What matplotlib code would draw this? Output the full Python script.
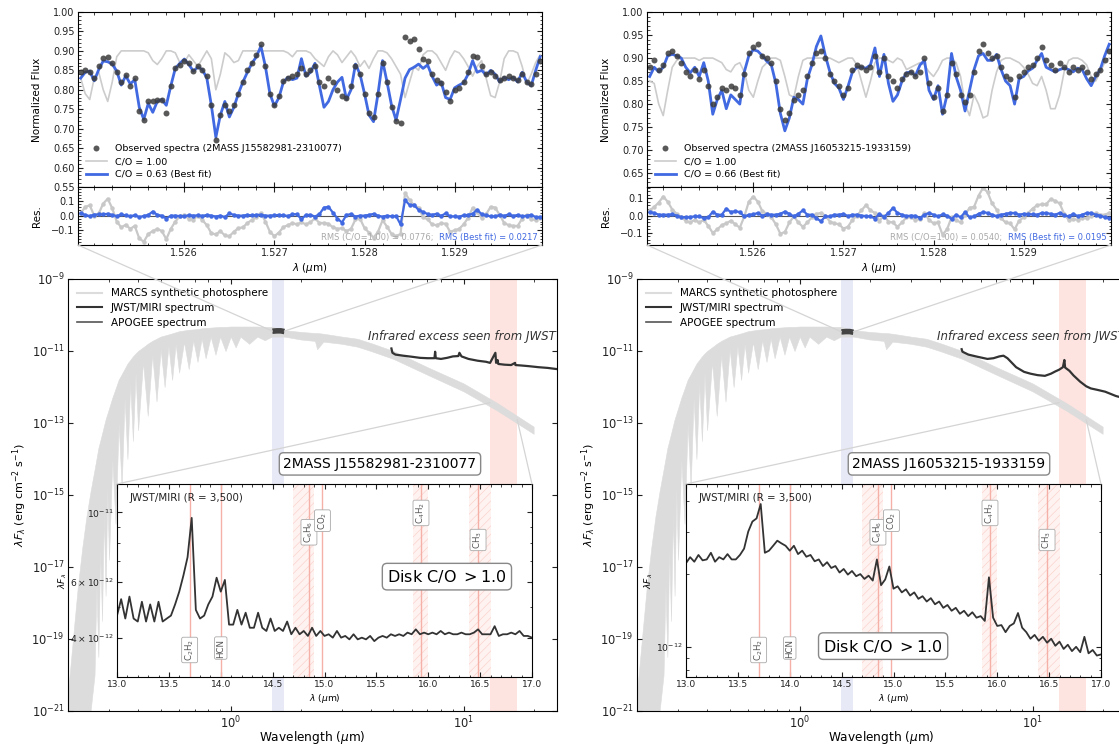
import numpy as np
import matplotlib
matplotlib.use('Agg')
import matplotlib.pyplot as plt
from matplotlib.lines import Line2D
from matplotlib.patches import ConnectionPatch
from matplotlib.ticker import (MultipleLocator, FixedLocator, FixedFormatter,
                               NullFormatter, NullLocator, FormatStrFormatter, LogLocator)
import matplotlib.transforms as mtransforms

plt.rcParams['font.family'] = ['DejaVu Sans']
plt.rcParams['mathtext.fontset'] = 'dejavusans'
plt.rcParams['hatch.linewidth'] = 0.5

# ---------------- APOGEE window (top panels) ----------------
apogee_grid = np.linspace(1.52485, 1.52995, 103)

obs_a = [0.845, 0.85, 0.845, 0.83, 0.86, 0.882, 0.885, 0.87, 0.845, 0.82,
         0.838, 0.81, 0.83, 0.745, 0.722, 0.77, 0.77, 0.775, 0.775, 0.74,
         0.81, 0.855, 0.865, 0.875, 0.868, 0.848, 0.86, 0.85, 0.835, 0.76,
         0.672, 0.735, 0.76, 0.745, 0.76, 0.79, 0.82, 0.85, 0.87, 0.89,
         0.918, 0.86, 0.79, 0.76, 0.785, 0.822, 0.83, 0.835, 0.84, 0.855,
         0.84, 0.85, 0.862, 0.82, 0.81, 0.83, 0.82, 0.80, 0.785, 0.78,
         0.81, 0.86, 0.84, 0.79, 0.74, 0.73, 0.79, 0.868, 0.82, 0.755,
         0.72, 0.715, 0.935, 0.925, 0.93, 0.905, 0.88, 0.875, 0.84, 0.825,
         0.818, 0.795, 0.77, 0.80, 0.805, 0.82, 0.845, 0.888, 0.885, 0.86,
         0.84, 0.845, 0.835, 0.825, 0.83, 0.835, 0.83, 0.825, 0.84, 0.82,
         0.815, 0.84, 0.875]
best_a = [0.83, 0.845, 0.848, 0.823, 0.852, 0.874, 0.872, 0.866, 0.848, 0.812,
          0.836, 0.815, 0.826, 0.755, 0.724, 0.765, 0.742, 0.77, 0.775, 0.76,
          0.81, 0.855, 0.868, 0.879, 0.865, 0.848, 0.858, 0.852, 0.83, 0.76,
          0.678, 0.735, 0.77, 0.73, 0.755, 0.79, 0.82, 0.845, 0.868, 0.885,
          0.912, 0.86, 0.79, 0.758, 0.78, 0.82, 0.832, 0.826, 0.83, 0.88,
          0.835, 0.845, 0.868, 0.81, 0.755, 0.77, 0.8, 0.82, 0.832, 0.775,
          0.8, 0.866, 0.84, 0.79, 0.735, 0.718, 0.79, 0.875, 0.82, 0.76,
          0.722, 0.775, 0.83, 0.852, 0.858, 0.866, 0.855, 0.864, 0.835, 0.812,
          0.82, 0.78, 0.775, 0.805, 0.812, 0.818, 0.84, 0.875, 0.845, 0.85,
          0.838, 0.85, 0.84, 0.82, 0.832, 0.826, 0.832, 0.82, 0.845, 0.82,
          0.81, 0.85, 0.885]
co1_a = [0.83, 0.79, 0.775, 0.83, 0.845, 0.80, 0.77, 0.82, 0.885, 0.90,
         0.90, 0.90, 0.90, 0.90, 0.90, 0.895, 0.875, 0.865, 0.88, 0.90,
         0.90, 0.895, 0.87, 0.87, 0.89, 0.875, 0.86, 0.88, 0.90, 0.88,
         0.80, 0.84, 0.895, 0.885, 0.87, 0.875, 0.90, 0.90, 0.90, 0.90,
         0.90, 0.90, 0.90, 0.90, 0.90, 0.90, 0.895, 0.885, 0.90, 0.90,
         0.90, 0.895, 0.88, 0.87, 0.86, 0.885, 0.90, 0.89, 0.87, 0.885,
         0.90, 0.885, 0.86, 0.875, 0.855, 0.88, 0.90, 0.90, 0.895, 0.88,
         0.86, 0.84, 0.78, 0.82, 0.86, 0.85, 0.89, 0.90, 0.90, 0.89,
         0.87, 0.85, 0.88, 0.90, 0.895, 0.88, 0.86, 0.835, 0.86, 0.875,
         0.83, 0.785, 0.78, 0.82, 0.88, 0.90, 0.90, 0.895, 0.86, 0.815,
         0.84, 0.87, 0.89]

obs_b = [0.88, 0.895, 0.875, 0.885, 0.91, 0.915, 0.905, 0.89, 0.87, 0.86,
         0.875, 0.855, 0.875, 0.84, 0.80, 0.815, 0.835, 0.83, 0.84, 0.835,
         0.82, 0.865, 0.91, 0.925, 0.93, 0.905, 0.9, 0.89, 0.85, 0.79,
         0.765, 0.78, 0.81, 0.82, 0.83, 0.86, 0.89, 0.91, 0.915, 0.9,
         0.865, 0.85, 0.84, 0.82, 0.835, 0.875, 0.885, 0.88, 0.875, 0.88,
         0.905, 0.87, 0.9, 0.86, 0.85, 0.835, 0.855, 0.865, 0.87, 0.86,
         0.87, 0.9, 0.845, 0.815, 0.835, 0.785, 0.82, 0.89, 0.865, 0.82,
         0.805, 0.82, 0.87, 0.915, 0.93, 0.91, 0.9, 0.905, 0.88, 0.86,
         0.855, 0.815, 0.86, 0.87, 0.88, 0.885, 0.9, 0.925, 0.895, 0.885,
         0.875, 0.89, 0.88, 0.87, 0.88, 0.875, 0.88, 0.87, 0.855, 0.865,
         0.875, 0.895, 0.915]
best_b = [0.86, 0.88, 0.87, 0.88, 0.905, 0.908, 0.905, 0.90, 0.88, 0.868,
          0.88, 0.86, 0.89, 0.85, 0.778, 0.81, 0.83, 0.79, 0.82, 0.81,
          0.80, 0.87, 0.905, 0.918, 0.915, 0.905, 0.893, 0.885, 0.845, 0.78,
          0.742, 0.77, 0.815, 0.81, 0.80, 0.855, 0.885, 0.925, 0.948, 0.905,
          0.87, 0.845, 0.835, 0.81, 0.838, 0.87, 0.88, 0.88, 0.878, 0.885,
          0.922, 0.86, 0.908, 0.845, 0.806, 0.82, 0.85, 0.868, 0.87, 0.862,
          0.885, 0.895, 0.83, 0.81, 0.84, 0.778, 0.82, 0.91, 0.86, 0.83,
          0.785, 0.83, 0.875, 0.905, 0.91, 0.895, 0.895, 0.908, 0.875, 0.85,
          0.84, 0.80, 0.855, 0.86, 0.872, 0.878, 0.895, 0.91, 0.88, 0.875,
          0.87, 0.875, 0.878, 0.875, 0.87, 0.878, 0.875, 0.855, 0.84, 0.86,
          0.875, 0.905, 0.93]
co1_b = [0.85, 0.845, 0.80, 0.775, 0.83, 0.88, 0.895, 0.90, 0.90, 0.90,
         0.90, 0.895, 0.90, 0.90, 0.90, 0.895, 0.89, 0.875, 0.87, 0.885,
         0.89, 0.87, 0.83, 0.815, 0.85, 0.88, 0.89, 0.90, 0.90, 0.895,
         0.86, 0.82, 0.815, 0.86, 0.895, 0.90, 0.90, 0.90, 0.90, 0.90,
         0.90, 0.895, 0.89, 0.895, 0.90, 0.90, 0.885, 0.85, 0.815, 0.85,
         0.89, 0.90, 0.90, 0.895, 0.89, 0.90, 0.895, 0.875, 0.88, 0.885,
         0.89, 0.885, 0.87, 0.86, 0.875, 0.895, 0.90, 0.90, 0.89, 0.86,
         0.80, 0.775, 0.82, 0.80, 0.77, 0.775, 0.83, 0.87, 0.895, 0.90,
         0.90, 0.895, 0.89, 0.88, 0.865, 0.845, 0.84, 0.86, 0.83, 0.79,
         0.79, 0.82, 0.87, 0.895, 0.90, 0.90, 0.895, 0.885, 0.86, 0.85,
         0.87, 0.89, 0.90]

# ---------------- SED: MARCS photosphere envelope (log10 flux) ----------------
marcs_wl = [0.20, 0.21, 0.22, 0.23, 0.24, 0.25,
            0.26, 0.265, 0.27, 0.275, 0.28, 0.285, 0.29, 0.295, 0.30, 0.31, 0.32, 0.33,
            0.34, 0.35, 0.36, 0.37, 0.38, 0.39, 0.40, 0.42, 0.44, 0.46, 0.48, 0.50,
            0.52, 0.54, 0.56, 0.58, 0.60, 0.63, 0.66, 0.69, 0.72, 0.75, 0.78, 0.82,
            0.86, 0.90, 0.95, 1.0, 1.05, 1.1, 1.2, 1.3, 1.4,
            1.5, 1.7, 2.0, 2.3, 2.35, 2.5, 3.0, 3.5, 4.0, 5.0, 7.0, 10.0, 14.0, 20.0]
marcs_hi = [-20.5, -19.0, -17.6, -16.5, -15.6, -14.9,
            -14.3, -14.0, -13.7, -13.5, -13.3, -13.1, -12.9, -12.75, -12.6, -12.3, -12.05, -11.8,
            -11.65, -11.5, -11.35, -11.25, -11.15, -11.07, -11.0, -10.9, -10.8, -10.72, -10.66,
            -10.6, -10.57, -10.54, -10.51, -10.48, -10.45, -10.43, -10.41, -10.4, -10.39,
            -10.37, -10.36, -10.35, -10.34, -10.33, -10.33, -10.32, -10.32, -10.32, -10.32,
            -10.32, -10.33,
            -10.33, -10.42, -10.47, -10.5, -10.5, -10.52, -10.6, -10.66, -10.78, -11.0,
            -11.45, -11.9, -12.45, -13.1]
marcs_lo = [-22.0, -22.0, -22.0, -21.8, -21.5, -21.0,
            -20.0, -17.5, -19.5, -16.5, -18.5, -15.5, -17.8, -14.8, -16.8, -14.0, -15.8, -13.0,
            -14.8, -12.3, -14.0, -11.9, -13.5, -11.6, -13.2, -11.3, -12.8, -11.1, -12.4,
            -10.95, -12.0, -10.85, -11.8, -10.8, -11.6, -10.75, -11.5, -10.7, -11.3,
            -10.65, -11.2, -10.6, -11.1, -10.6, -11.0, -10.6, -10.9, -10.6, -10.8,
            -10.6, -10.7,
            -10.6, -10.6, -10.68, -10.72, -10.95, -10.74, -10.8, -10.88, -11.0, -11.22,
            -11.66, -12.12, -12.66, -13.3]

apogee_wl = [1.51, 1.58, 1.64, 1.70]
apogee_logf_a = [-10.45, -10.44, -10.44, -10.46]
apogee_logf_b = [-10.47, -10.46, -10.46, -10.48]

jwst_wl_a = [4.90, 4.95, 5.1, 5.5, 6.0, 6.5, 7.0, 7.5, 7.55, 7.6, 8.0, 8.5, 9.0, 9.5, 9.6,
             9.8, 10.5, 11.5, 12.5, 13.0, 13.7, 13.8, 14.0, 14.1, 15.0, 16.0, 16.65, 16.7,
             17.5, 19.0, 21.0, 23.0, 25.0, 27.0]
jwst_logf_a = [-10.93, -11.05, -11.1, -11.13, -11.16, -11.19, -11.2, -11.2, -11.02, -11.2,
               -11.22, -11.19, -11.15, -11.14, -11.05, -11.15, -11.22, -11.27, -11.3, -11.33,
               -11.05, -11.33, -11.25, -11.36, -11.38, -11.39, -11.33, -11.39, -11.4, -11.42,
               -11.45, -11.47, -11.5, -11.52]
jwst_wl_b = [4.96, 5.0, 5.3, 5.8, 6.4, 6.8, 7.2, 7.5, 7.8, 8.5, 9.2, 9.8, 10.5, 11.3, 12.0,
             12.5, 13.0, 13.5, 13.7, 13.8, 14.4, 15.0, 16.0, 17.0, 17.8, 19.0, 20.5, 22.8,
             25.0, 28.0]
jwst_logf_b = [-10.95, -11.02, -11.1, -11.16, -11.22, -11.2, -11.15, -11.13, -11.2, -11.45,
               -11.58, -11.63, -11.67, -11.69, -11.63, -11.57, -11.52, -11.45, -11.25, -11.46,
               -11.55, -11.68, -11.85, -11.98, -12.04, -12.08, -12.13, -12.25, -12.32, -12.38]

# ---------------- MIRI insets (units of 1e-12) ----------------
miri_grid = np.linspace(13.0, 17.0, 101)
miri_a = [4.7, 5.3, 4.6, 5.4, 4.6, 4.5, 5.2, 4.5, 5.1, 4.5,
          5.2, 4.5, 4.6, 4.7, 5.1, 5.6, 6.3, 7.2, 9.6, 4.9,
          4.6, 4.7, 5.1, 5.4, 6.2, 5.6, 6.1, 4.4, 4.4, 4.9,
          4.4, 4.8, 4.3, 4.3, 4.8, 4.3, 4.2, 4.6, 4.2, 4.3,
          4.2, 4.5, 4.1, 4.3, 4.1, 4.2, 4.05, 4.3, 4.05, 4.2,
          4.05, 4.1, 4.0, 4.2, 4.0, 4.05, 3.95, 4.1, 3.95, 4.0,
          3.95, 4.05, 3.9, 4.0, 4.05, 4.0, 4.1, 4.05, 4.1, 4.05,
          4.15, 4.1, 4.25, 4.1, 4.15, 4.1, 4.15, 4.1, 4.2, 4.1,
          4.15, 4.1, 4.1, 4.15, 4.1, 4.1, 4.15, 4.25, 4.1, 4.1,
          4.1, 4.35, 4.05, 4.1, 4.1, 4.15, 4.1, 4.2, 4.05, 4.05,
          4.0]
miri_b = [2.22, 2.35, 2.25, 2.4, 2.28, 2.3, 2.45, 2.25, 2.35, 2.3,
          2.42, 2.3, 2.3, 2.4, 2.55, 3.0, 3.3, 3.4, 3.9, 2.45,
          2.5, 2.62, 2.75, 2.68, 2.62, 2.5, 2.62, 2.42, 2.5, 2.36,
          2.4, 2.26, 2.3, 2.16, 2.24, 2.12, 2.16, 2.03, 2.1, 1.99,
          2.06, 1.96, 2.0, 1.91, 1.97, 1.88, 2.3, 1.8, 1.9, 2.15,
          1.74, 1.78, 1.68, 1.73, 1.63, 1.68, 1.58, 1.62, 1.54, 1.59,
          1.5, 1.54, 1.45, 1.49, 1.41, 1.45, 1.37, 1.41, 1.34, 1.39,
          1.32, 1.34, 1.28, 1.94, 1.32, 1.22, 1.23, 1.15, 1.22, 1.25,
          1.38, 1.2, 1.15, 1.08, 1.12, 1.06, 1.1, 1.04, 1.08, 1.01,
          1.05, 0.98, 1.02, 0.96, 1.0, 0.95, 1.1, 0.94, 0.97, 0.92,
          0.93]

species = ['C$_2$H$_2$', 'HCN', 'C$_6$H$_6$', 'CO$_2$', 'C$_4$H$_2$', 'CH$_3$']
species_wl = [13.70, 14.0, 14.85, 14.98, 15.93, 16.48]
species_ypos = [0.14, 0.15, 0.75, 0.81, 0.85, 0.71]
hatch_bands = [(14.70, 14.90), (15.85, 16.00), (16.39, 16.60)]

BLUE = '#4169e1'
W, H = 1119, 746
fig = plt.figure(figsize=(W / 100, H / 100), dpi=100)


def px_axes(x0, y0, x1, y1):
    return fig.add_axes([x0 / W, 1 - y1 / H, (x1 - x0) / W, (y1 - y0) / H])


def style(ax, size):
    ax.tick_params(which='both', direction='in', top=True, right=True, labelsize=size,
                   colors='#222', pad=2.5)
    ax.tick_params(which='major', length=3.5)
    ax.tick_params(which='minor', length=1.8)


def draw_top(dx, obs, best, co1, star, co_best, rms1, rms2, ylim, rlim):
    ax = px_axes(78 + dx, 12, 542 + dx, 187)
    res = px_axes(78 + dx, 187, 542 + dx, 245)
    h1, = ax.plot(apogee_grid, co1, color='#cccccc', lw=1.2)
    h2, = ax.plot(apogee_grid, best, color=BLUE, lw=2.0)
    h0, = ax.plot(apogee_grid, obs, 'o', color='#3c3c3c', ms=4.3, alpha=0.85, mec='none')
    ax.legend([h0, h1, h2], ['Observed spectra (%s)' % star, 'C/O = 1.00',
                             'C/O = %s (Best fit)' % co_best],
              loc='lower left', frameon=False, fontsize=6.8, handlelength=2.3,
              borderaxespad=0.4, labelspacing=0.45)
    ax.set_xlim(1.52482, 1.52997)
    ax.set_ylim(*ylim)
    ax.yaxis.set_major_locator(MultipleLocator(0.05))
    ax.yaxis.set_minor_locator(MultipleLocator(0.01))
    ax.yaxis.set_major_formatter(FormatStrFormatter('%.2f'))
    ax.xaxis.set_major_locator(FixedLocator([1.526, 1.527, 1.528, 1.529]))
    ax.xaxis.set_minor_locator(MultipleLocator(0.0002))
    ax.set_xticklabels([])
    ax.set_ylabel('Normalized Flux', fontsize=7.5)
    style(ax, 7)

    r_obs = np.array(obs)
    res.plot(apogee_grid, r_obs - np.array(co1), 'o-', color='#c8c8c8', ms=3.2, lw=1.6, mec='none')
    res.plot(apogee_grid, r_obs - np.array(best), 'o-', color=BLUE, ms=3.2, lw=1.6, mec='none')
    res.axhline(0, color='#555', lw=0.8, zorder=0)
    res.set_xlim(1.52482, 1.52997)
    res.set_ylim(*rlim)
    res.yaxis.set_major_locator(FixedLocator([-0.1, 0.0, 0.1]))
    res.yaxis.set_minor_locator(MultipleLocator(0.02))
    res.xaxis.set_major_locator(FixedLocator([1.526, 1.527, 1.528, 1.529]))
    res.xaxis.set_minor_locator(MultipleLocator(0.0002))
    res.xaxis.set_major_formatter(FormatStrFormatter('%.3f'))
    res.set_ylabel('Res.', fontsize=7.5)
    res.set_xlabel(r'$\lambda$ ($\mu$m)', fontsize=7.5, labelpad=2)
    style(res, 7)
    t2 = res.text(0.99, 0.05, 'RMS (Best fit) = %s' % rms2, transform=res.transAxes,
                  ha='right', va='bottom', fontsize=6, color=BLUE)
    res.annotate('RMS (C/O=1.00) = %s;  ' % rms1, xy=(0, 0), xycoords=t2,
                 ha='right', va='bottom', fontsize=6, color='#aaaaaa')
    ax.yaxis.set_label_coords(-0.078, 0.5)
    res.yaxis.set_label_coords(-0.078, 0.5)
    return res


def draw_sed(dx, apogee_logf, jwst_wl, jwst_logf, star, miri, ylim_in, res_ax,
             co_box, ticks_in, ticklabels_in):
    ax = px_axes(68 + dx, 279, 557 + dx, 711)
    ax.set_xscale('log')
    ax.set_yscale('log')
    ax.axvspan(1.51, 1.70, color='#e7e9f6', lw=0, zorder=0)
    ax.axvspan(13.0, 17.0, color='#fde4e0', lw=0, zorder=0)
    ax.fill_between(marcs_wl, 10.0 ** np.array(marcs_lo), 10.0 ** np.array(marcs_hi),
                    color='#dcdcdc', lw=0.4, edgecolor='#dcdcdc', zorder=1)
    ax.plot(jwst_wl, 10.0 ** np.array(jwst_logf), color='#333333', lw=1.6, zorder=3)
    ax.plot(apogee_wl, 10.0 ** np.array(apogee_logf), color='#444444', lw=4,
            solid_capstyle='butt', zorder=3)
    ax.set_xlim(0.2, 25.2)
    ax.set_ylim(1e-21, 1e-9)
    ax.yaxis.set_major_locator(FixedLocator([10.0 ** e for e in range(-21, -8, 2)]))
    ax.yaxis.set_minor_locator(NullLocator())
    ax.xaxis.set_major_locator(LogLocator(base=10))
    ax.xaxis.set_minor_locator(LogLocator(base=10, subs=np.arange(2, 10)))
    ax.xaxis.set_minor_formatter(NullFormatter())
    style(ax, 8.3)
    ax.set_xlabel(r'Wavelength ($\mu$m)', fontsize=8.7, va='center')
    ax.xaxis.set_label_coords(0.5, -0.061)
    ax.set_ylabel(r'$\lambda F_\lambda$ (erg cm$^{-2}$ s$^{-1}$)', fontsize=8, labelpad=2)
    handles = [Line2D([], [], color='#dcdcdc', lw=1.5), Line2D([], [], color='#333333', lw=1.5),
               Line2D([], [], color='#555555', lw=1.2)]
    ax.legend(handles, ['MARCS synthetic photosphere', 'JWST/MIRI spectrum', 'APOGEE spectrum'],
              loc='upper left', frameon=False, fontsize=7.5, handlelength=2.4,
              labelspacing=0.45, borderaxespad=0.5)
    ax.text(0.998, 0.866, 'Infrared excess seen from JWST', transform=ax.transAxes,
            ha='right', va='center', fontsize=8.5, style='italic', color='#333')
    ax.text(0.638, 0.572, star, transform=ax.transAxes, ha='center', va='center',
            fontsize=10, bbox=dict(boxstyle='round,pad=0.3', fc='white', ec='#888', lw=1))

    # zoom connectors APOGEE window -> SED
    for xa, xb in [(0, apogee_wl[0]), (1, apogee_wl[-1])]:
        cp = ConnectionPatch(xyA=(xa, 0), coordsA=res_ax.transAxes,
                             xyB=(xb, 10.0 ** np.mean(apogee_logf)), coordsB=ax.transData,
                             color='#d4d4d4', lw=0.9, zorder=5)
        fig.add_artist(cp)

    ins = px_axes(117 + dx, 484, 532 + dx, 677)
    ins.set_yscale('log')
    for lo, hi in hatch_bands:
        ins.axvspan(lo, hi, facecolor='#fff3f1', edgecolor='#fad3ce', hatch='////', lw=0)
    for w in species_wl:
        ins.axvline(w, color='#f5b0a8', lw=1)
    ins.plot(miri_grid, np.array(miri) * 1e-12, color='#333333', lw=1.3)
    ins.set_xlim(13.0, 17.0)
    ins.set_ylim(*ylim_in)
    ins.yaxis.set_major_locator(FixedLocator(ticks_in))
    ins.yaxis.set_major_formatter(FixedFormatter(ticklabels_in))
    ins.yaxis.set_minor_locator(LogLocator(base=10, subs=np.arange(2, 10)))
    ins.yaxis.set_minor_formatter(NullFormatter())
    ins.xaxis.set_major_locator(MultipleLocator(0.5))
    ins.xaxis.set_minor_locator(MultipleLocator(0.1))
    ins.xaxis.set_major_formatter(FormatStrFormatter('%.1f'))
    style(ins, 6.6)
    ins.set_xlabel(r'$\lambda$ ($\mu$m)', fontsize=6.6, labelpad=1.5)
    ins.set_ylabel(r'$\lambda F_\lambda$', fontsize=6.6, labelpad=1)
    trans = mtransforms.blended_transform_factory(ins.transData, ins.transAxes)
    for name, w, yp in zip(species, species_wl, species_ypos):
        ins.text(w, yp, name, transform=trans, rotation=90, ha='center', va='center',
                 fontsize=6.2, color='#555',
                 bbox=dict(boxstyle='round,pad=0.2', fc='white', ec='#aaa', lw=0.6))
    ins.text(0.03, 0.93, 'JWST/MIRI (R = 3,500)', transform=ins.transAxes, fontsize=7.4,
             va='center', color='#222')
    ins.text(co_box[0], co_box[1], r'Disk C/O $>$1.0', transform=ins.transAxes,
             ha='center', va='center', fontsize=11.5,
             bbox=dict(boxstyle='round,pad=0.3', fc='white', ec='#888', lw=1))

    # zoom connectors SED red band -> inset
    for xw, xa in [(13.0, 0), (17.0, 1)]:
        yv = 10.0 ** np.interp(np.log10(xw), np.log10(marcs_wl),
                               (np.array(marcs_hi) + np.array(marcs_lo)) / 2)
        cp = ConnectionPatch(xyA=(xw, yv), coordsA=ax.transData,
                             xyB=(xa, 1), coordsB=ins.transAxes,
                             color='#d4d4d4', lw=0.9, zorder=5)
        fig.add_artist(cp)


res_a = draw_top(0, obs_a, best_a, co1_a, '2MASS J15582981-2310077', '0.63',
                 '0.0776', '0.0217', (0.55, 1.00), (-0.2, 0.195))
res_b = draw_top(569, obs_b, best_b, co1_b, '2MASS J16053215-1933159', '0.66',
                 '0.0540', '0.0195', (0.62, 1.00), (-0.17, 0.165))

draw_sed(0, apogee_logf_a, jwst_wl_a, jwst_logf_a, '2MASS J15582981-2310077', miri_a,
         (3.0e-12, 1.23e-11), res_a, (0.795, 0.52),
         [4e-12, 6e-12, 1e-11], [r'$4\times10^{-12}$', r'$6\times10^{-12}$', r'$10^{-11}$'])
draw_sed(569, apogee_logf_b, jwst_wl_b, jwst_logf_b, '2MASS J16053215-1933159', miri_b,
         (7.5e-13, 4.72e-12), res_b, (0.475, 0.16),
         [1e-12], [r'$10^{-12}$'])

fig.savefig('out.png', dpi=100)
